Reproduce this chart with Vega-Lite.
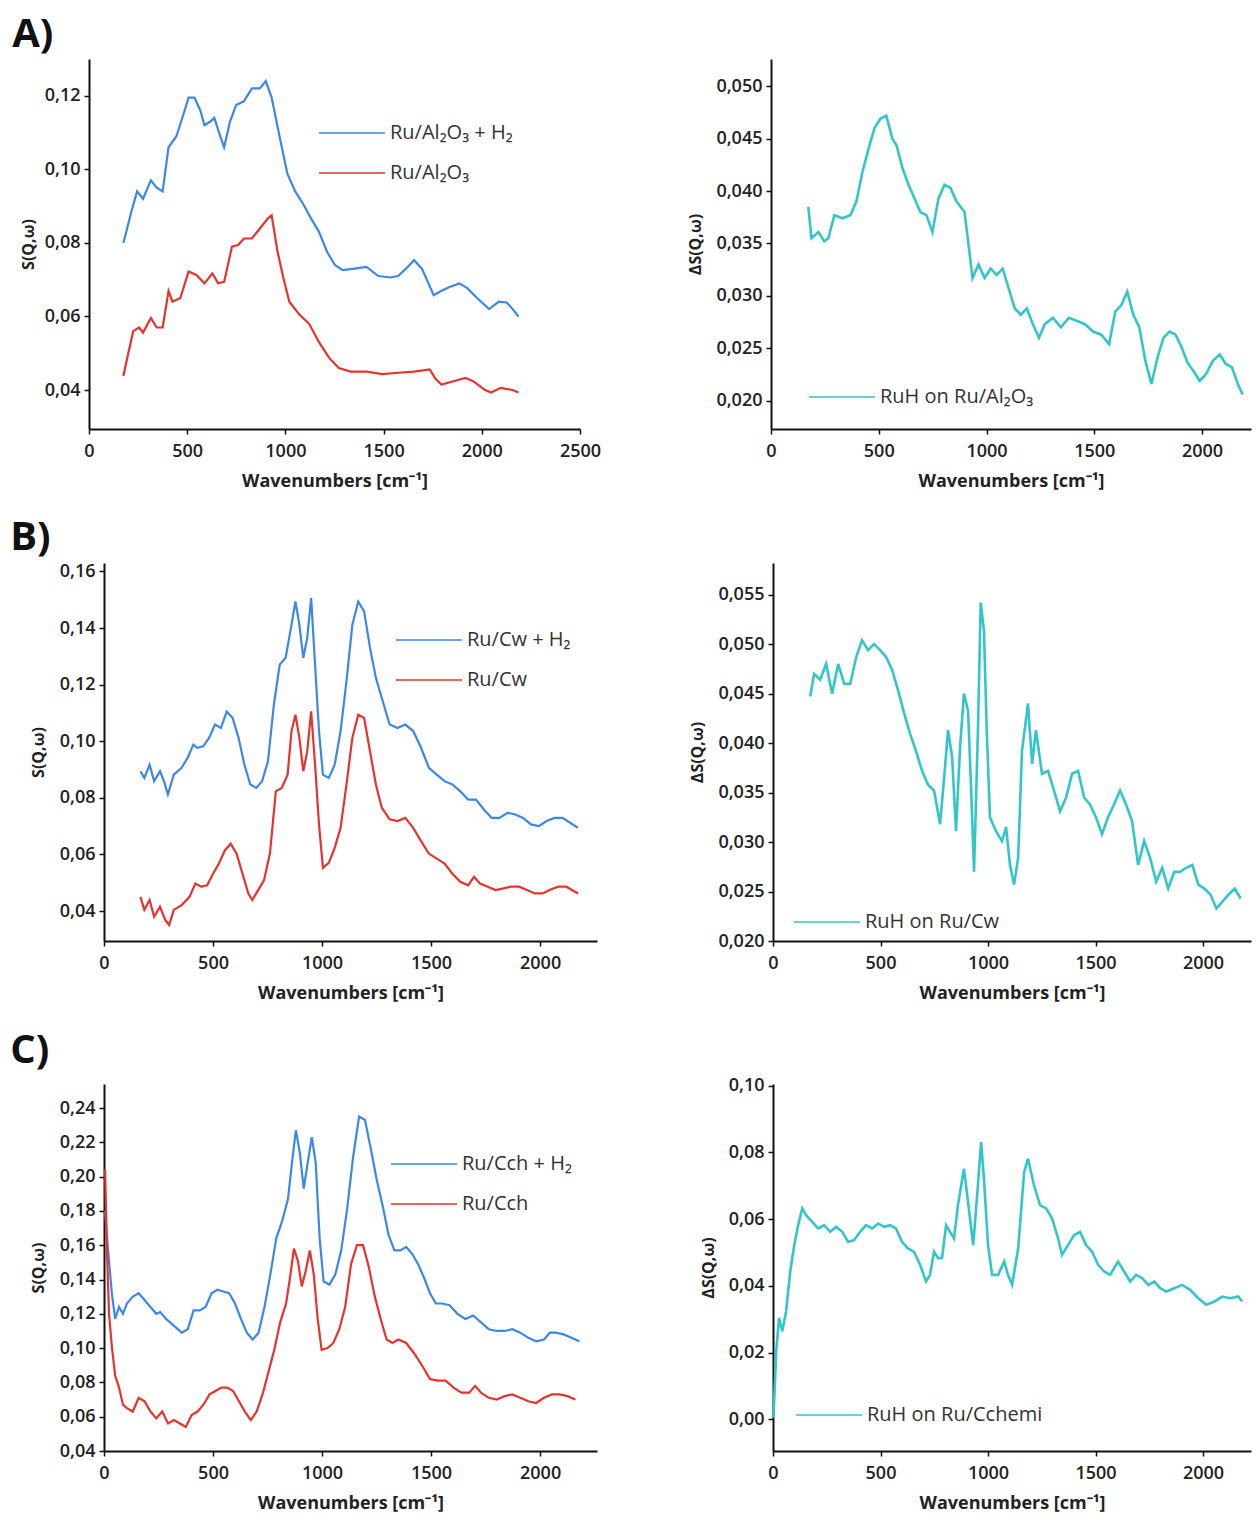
{
  "$schema": "https://vega.github.io/schema/vega-lite/v6.json",
  "background": "white",
  "padding": {"left": 10, "top": 15, "right": 2, "bottom": 0},
  "config": {
    "view": {"stroke": null},
    "font": "Open Sans",
    "axis": {
      "grid": false, "domainColor": "#111", "domainWidth": 2, "tickColor": "#111", "tickWidth": 1.5, "tickSize": 5,
      "labelFont": "Open Sans", "labelFontWeight": 600, "labelFontSize": 18, "labelColor": "#222", "labelPadding": 4,
      "titleFont": "Open Sans", "titleFontWeight": "bold", "titleColor": "#222"
    },
    "axisX": {"titleFontSize": 18, "titlePadding": 12, "labelPadding": 8, "labelFlush": false},
    "axisY": {"titleFontSize": 16, "labelFlush": false},
    "legend": {"labelFont": "Open Sans", "labelFontSize": 20, "labelColor": "#333", "labelLimit": 0, "symbolType": "M-3,0L3,0", "symbolSize": 484, "symbolStrokeWidth": 1.5, "rowPadding": 18, "labelOffset": 26, "orient": "none"},
    "title": {"font": "Open Sans", "fontSize": 40, "fontWeight": "bold", "color": "#111", "anchor": "start", "offset": 0}
  },
  "resolve": {"scale": {"color": "independent"}, "legend": {"color": "independent"}},
  "columns": 1,
  "spacing": 28,
  "concat": [
    {
      "title": {"text": "A)", "dx": -8},
      "bounds": "flush",
      "spacing": 191,
      "resolve": {"scale": {"color": "independent"}, "legend": {"color": "independent"}},
      "hconcat": [
        {
          "width": 476, "height": 370,
          "data": {"values": [
            {"s":"Ru/Al₂O₃ + H₂","x":175,"y":0.080},{"s":"Ru/Al₂O₃ + H₂","x":185,"y":0.082},{"s":"Ru/Al₂O₃ + H₂","x":215,"y":0.0884},{"s":"Ru/Al₂O₃ + H₂","x":245,"y":0.094},{"s":"Ru/Al₂O₃ + H₂","x":275,"y":0.092},{"s":"Ru/Al₂O₃ + H₂","x":315,"y":0.097},{"s":"Ru/Al₂O₃ + H₂","x":345,"y":0.095},{"s":"Ru/Al₂O₃ + H₂","x":375,"y":0.094},{"s":"Ru/Al₂O₃ + H₂","x":405,"y":0.106},{"s":"Ru/Al₂O₃ + H₂","x":445,"y":0.109},{"s":"Ru/Al₂O₃ + H₂","x":487,"y":0.116},{"s":"Ru/Al₂O₃ + H₂","x":507,"y":0.1195},{"s":"Ru/Al₂O₃ + H₂","x":537,"y":0.1195},{"s":"Ru/Al₂O₃ + H₂","x":567,"y":0.116},{"s":"Ru/Al₂O₃ + H₂","x":588,"y":0.112},{"s":"Ru/Al₂O₃ + H₂","x":618,"y":0.113},{"s":"Ru/Al₂O₃ + H₂","x":638,"y":0.114},{"s":"Ru/Al₂O₃ + H₂","x":668,"y":0.109},{"s":"Ru/Al₂O₃ + H₂","x":688,"y":0.106},{"s":"Ru/Al₂O₃ + H₂","x":718,"y":0.113},{"s":"Ru/Al₂O₃ + H₂","x":749,"y":0.1175},{"s":"Ru/Al₂O₃ + H₂","x":789,"y":0.1185},{"s":"Ru/Al₂O₃ + H₂","x":829,"y":0.122},{"s":"Ru/Al₂O₃ + H₂","x":870,"y":0.122},{"s":"Ru/Al₂O₃ + H₂","x":900,"y":0.124},{"s":"Ru/Al₂O₃ + H₂","x":930,"y":0.1195},{"s":"Ru/Al₂O₃ + H₂","x":970,"y":0.109},{"s":"Ru/Al₂O₃ + H₂","x":1010,"y":0.0988},{"s":"Ru/Al₂O₃ + H₂","x":1050,"y":0.094},{"s":"Ru/Al₂O₃ + H₂","x":1091,"y":0.0905},{"s":"Ru/Al₂O₃ + H₂","x":1131,"y":0.0866},{"s":"Ru/Al₂O₃ + H₂","x":1171,"y":0.083},{"s":"Ru/Al₂O₃ + H₂","x":1212,"y":0.0776},{"s":"Ru/Al₂O₃ + H₂","x":1252,"y":0.074},{"s":"Ru/Al₂O₃ + H₂","x":1292,"y":0.0726},{"s":"Ru/Al₂O₃ + H₂","x":1352,"y":0.073},{"s":"Ru/Al₂O₃ + H₂","x":1413,"y":0.0735},{"s":"Ru/Al₂O₃ + H₂","x":1473,"y":0.071},{"s":"Ru/Al₂O₃ + H₂","x":1534,"y":0.0706},{"s":"Ru/Al₂O₃ + H₂","x":1574,"y":0.071},{"s":"Ru/Al₂O₃ + H₂","x":1614,"y":0.073},{"s":"Ru/Al₂O₃ + H₂","x":1655,"y":0.0753},{"s":"Ru/Al₂O₃ + H₂","x":1695,"y":0.073},{"s":"Ru/Al₂O₃ + H₂","x":1725,"y":0.0694},{"s":"Ru/Al₂O₃ + H₂","x":1755,"y":0.0658},{"s":"Ru/Al₂O₃ + H₂","x":1795,"y":0.067},{"s":"Ru/Al₂O₃ + H₂","x":1836,"y":0.068},{"s":"Ru/Al₂O₃ + H₂","x":1886,"y":0.069},{"s":"Ru/Al₂O₃ + H₂","x":1926,"y":0.0677},{"s":"Ru/Al₂O₃ + H₂","x":1976,"y":0.065},{"s":"Ru/Al₂O₃ + H₂","x":2037,"y":0.062},{"s":"Ru/Al₂O₃ + H₂","x":2087,"y":0.064},{"s":"Ru/Al₂O₃ + H₂","x":2127,"y":0.0638},{"s":"Ru/Al₂O₃ + H₂","x":2157,"y":0.062},{"s":"Ru/Al₂O₃ + H₂","x":2187,"y":0.060},
            {"s":"Ru/Al₂O₃","x":175,"y":0.0438},{"s":"Ru/Al₂O₃","x":195,"y":0.0488},{"s":"Ru/Al₂O₃","x":225,"y":0.056},{"s":"Ru/Al₂O₃","x":255,"y":0.057},{"s":"Ru/Al₂O₃","x":275,"y":0.0556},{"s":"Ru/Al₂O₃","x":315,"y":0.0596},{"s":"Ru/Al₂O₃","x":345,"y":0.057},{"s":"Ru/Al₂O₃","x":375,"y":0.057},{"s":"Ru/Al₂O₃","x":405,"y":0.0669},{"s":"Ru/Al₂O₃","x":425,"y":0.064},{"s":"Ru/Al₂O₃","x":465,"y":0.065},{"s":"Ru/Al₂O₃","x":507,"y":0.0722},{"s":"Ru/Al₂O₃","x":547,"y":0.0713},{"s":"Ru/Al₂O₃","x":588,"y":0.069},{"s":"Ru/Al₂O₃","x":628,"y":0.0717},{"s":"Ru/Al₂O₃","x":658,"y":0.069},{"s":"Ru/Al₂O₃","x":688,"y":0.0694},{"s":"Ru/Al₂O₃","x":728,"y":0.079},{"s":"Ru/Al₂O₃","x":759,"y":0.0794},{"s":"Ru/Al₂O₃","x":789,"y":0.0812},{"s":"Ru/Al₂O₃","x":829,"y":0.0812},{"s":"Ru/Al₂O₃","x":870,"y":0.0839},{"s":"Ru/Al₂O₃","x":910,"y":0.0866},{"s":"Ru/Al₂O₃","x":930,"y":0.0875},{"s":"Ru/Al₂O₃","x":960,"y":0.0776},{"s":"Ru/Al₂O₃","x":990,"y":0.0704},{"s":"Ru/Al₂O₃","x":1020,"y":0.064},{"s":"Ru/Al₂O₃","x":1071,"y":0.0605},{"s":"Ru/Al₂O₃","x":1121,"y":0.058},{"s":"Ru/Al₂O₃","x":1171,"y":0.053},{"s":"Ru/Al₂O₃","x":1222,"y":0.0488},{"s":"Ru/Al₂O₃","x":1272,"y":0.046},{"s":"Ru/Al₂O₃","x":1332,"y":0.045},{"s":"Ru/Al₂O₃","x":1413,"y":0.045},{"s":"Ru/Al₂O₃","x":1494,"y":0.0443},{"s":"Ru/Al₂O₃","x":1574,"y":0.0447},{"s":"Ru/Al₂O₃","x":1655,"y":0.045},{"s":"Ru/Al₂O₃","x":1735,"y":0.0456},{"s":"Ru/Al₂O₃","x":1765,"y":0.043},{"s":"Ru/Al₂O₃","x":1795,"y":0.0415},{"s":"Ru/Al₂O₃","x":1856,"y":0.0424},{"s":"Ru/Al₂O₃","x":1916,"y":0.0433},{"s":"Ru/Al₂O₃","x":1956,"y":0.0424},{"s":"Ru/Al₂O₃","x":2017,"y":0.040},{"s":"Ru/Al₂O₃","x":2047,"y":0.0393},{"s":"Ru/Al₂O₃","x":2097,"y":0.0406},{"s":"Ru/Al₂O₃","x":2157,"y":0.040},{"s":"Ru/Al₂O₃","x":2187,"y":0.0393}
          ]},
          "mark": {"type": "line", "strokeWidth": 2.2},
          "encoding": {
            "x": {"field": "x", "type": "quantitative", "scale": {"domain": [0, 2500], "range": [-15, 476], "nice": false, "zero": false}, "axis": {"values": [0,500,1000,1500,2000,2500], "format": "d", "title": "Wavenumbers [cm⁻¹]"}},
            "y": {"field": "y", "type": "quantitative", "scale": {"domain": [0.0294, 0.130], "nice": false, "zero": false}, "axis": {"values": [0.04,0.06,0.08,0.10,0.12], "format": ".2f", "labelExpr": "replace(datum.label, '.', ',')", "title": "S(Q,ω)", "titlePadding": 8, "offset": 15}},
            "color": {"field": "s", "type": "nominal", "scale": {"domain": ["Ru/Al₂O₃ + H₂", "Ru/Al₂O₃"], "range": ["#3d87e6", "#e5332f"]}, "legend": {"title": null, "legendX": 236, "legendY": 62}}
          }
        },
        {
          "width": 480, "height": 370,
          "data": {"values": [
            {"s":"RuH on Ru/Al₂O₃","x":173,"y":0.0385},{"s":"RuH on Ru/Al₂O₃","x":188,"y":0.0355},{"s":"RuH on Ru/Al₂O₃","x":220,"y":0.0361},{"s":"RuH on Ru/Al₂O₃","x":247,"y":0.0352},{"s":"RuH on Ru/Al₂O₃","x":266,"y":0.0355},{"s":"RuH on Ru/Al₂O₃","x":294,"y":0.0377},{"s":"RuH on Ru/Al₂O₃","x":331,"y":0.0374},{"s":"RuH on Ru/Al₂O₃","x":368,"y":0.0377},{"s":"RuH on Ru/Al₂O₃","x":396,"y":0.039},{"s":"RuH on Ru/Al₂O₃","x":424,"y":0.0418},{"s":"RuH on Ru/Al₂O₃","x":452,"y":0.044},{"s":"RuH on Ru/Al₂O₃","x":480,"y":0.046},{"s":"RuH on Ru/Al₂O₃","x":507,"y":0.0469},{"s":"RuH on Ru/Al₂O₃","x":535,"y":0.0472},{"s":"RuH on Ru/Al₂O₃","x":563,"y":0.045},{"s":"RuH on Ru/Al₂O₃","x":582,"y":0.0444},{"s":"RuH on Ru/Al₂O₃","x":610,"y":0.0422},{"s":"RuH on Ru/Al₂O₃","x":638,"y":0.0406},{"s":"RuH on Ru/Al₂O₃","x":666,"y":0.0393},{"s":"RuH on Ru/Al₂O₃","x":693,"y":0.038},{"s":"RuH on Ru/Al₂O₃","x":721,"y":0.0377},{"s":"RuH on Ru/Al₂O₃","x":749,"y":0.0361},{"s":"RuH on Ru/Al₂O₃","x":777,"y":0.0393},{"s":"RuH on Ru/Al₂O₃","x":805,"y":0.0406},{"s":"RuH on Ru/Al₂O₃","x":833,"y":0.0403},{"s":"RuH on Ru/Al₂O₃","x":861,"y":0.039},{"s":"RuH on Ru/Al₂O₃","x":898,"y":0.038},{"s":"RuH on Ru/Al₂O₃","x":917,"y":0.0348},{"s":"RuH on Ru/Al₂O₃","x":935,"y":0.0317},{"s":"RuH on Ru/Al₂O₃","x":963,"y":0.033},{"s":"RuH on Ru/Al₂O₃","x":991,"y":0.0317},{"s":"RuH on Ru/Al₂O₃","x":1019,"y":0.0326},{"s":"RuH on Ru/Al₂O₃","x":1047,"y":0.032},{"s":"RuH on Ru/Al₂O₃","x":1075,"y":0.0326},{"s":"RuH on Ru/Al₂O₃","x":1103,"y":0.0307},{"s":"RuH on Ru/Al₂O₃","x":1131,"y":0.0288},{"s":"RuH on Ru/Al₂O₃","x":1159,"y":0.0282},{"s":"RuH on Ru/Al₂O₃","x":1187,"y":0.0288},{"s":"RuH on Ru/Al₂O₃","x":1215,"y":0.0273},{"s":"RuH on Ru/Al₂O₃","x":1243,"y":0.026},{"s":"RuH on Ru/Al₂O₃","x":1270,"y":0.0273},{"s":"RuH on Ru/Al₂O₃","x":1308,"y":0.0279},{"s":"RuH on Ru/Al₂O₃","x":1345,"y":0.027},{"s":"RuH on Ru/Al₂O₃","x":1382,"y":0.0279},{"s":"RuH on Ru/Al₂O₃","x":1420,"y":0.0276},{"s":"RuH on Ru/Al₂O₃","x":1457,"y":0.0273},{"s":"RuH on Ru/Al₂O₃","x":1494,"y":0.0266},{"s":"RuH on Ru/Al₂O₃","x":1532,"y":0.0263},{"s":"RuH on Ru/Al₂O₃","x":1569,"y":0.0254},{"s":"RuH on Ru/Al₂O₃","x":1597,"y":0.0285},{"s":"RuH on Ru/Al₂O₃","x":1625,"y":0.0291},{"s":"RuH on Ru/Al₂O₃","x":1653,"y":0.0304},{"s":"RuH on Ru/Al₂O₃","x":1681,"y":0.0282},{"s":"RuH on Ru/Al₂O₃","x":1709,"y":0.027},{"s":"RuH on Ru/Al₂O₃","x":1737,"y":0.0238},{"s":"RuH on Ru/Al₂O₃","x":1765,"y":0.0216},{"s":"RuH on Ru/Al₂O₃","x":1793,"y":0.0241},{"s":"RuH on Ru/Al₂O₃","x":1821,"y":0.026},{"s":"RuH on Ru/Al₂O₃","x":1849,"y":0.0266},{"s":"RuH on Ru/Al₂O₃","x":1877,"y":0.0263},{"s":"RuH on Ru/Al₂O₃","x":1905,"y":0.0251},{"s":"RuH on Ru/Al₂O₃","x":1933,"y":0.0236},{"s":"RuH on Ru/Al₂O₃","x":1961,"y":0.0228},{"s":"RuH on Ru/Al₂O₃","x":1989,"y":0.0219},{"s":"RuH on Ru/Al₂O₃","x":2017,"y":0.0225},{"s":"RuH on Ru/Al₂O₃","x":2050,"y":0.0238},{"s":"RuH on Ru/Al₂O₃","x":2082,"y":0.0244},{"s":"RuH on Ru/Al₂O₃","x":2110,"y":0.0235},{"s":"RuH on Ru/Al₂O₃","x":2138,"y":0.0232},{"s":"RuH on Ru/Al₂O₃","x":2166,"y":0.0216},{"s":"RuH on Ru/Al₂O₃","x":2188,"y":0.0206}
          ]},
          "mark": {"type": "line", "strokeWidth": 2.6},
          "encoding": {
            "x": {"field": "x", "type": "quantitative", "scale": {"domain": [0, 2227], "nice": false, "zero": false}, "axis": {"values": [0,500,1000,1500,2000], "format": "d", "title": "Wavenumbers [cm⁻¹]"}},
            "y": {"field": "y", "type": "quantitative", "scale": {"domain": [0.0173, 0.0526], "nice": false, "zero": false}, "axis": {"values": [0.020,0.025,0.030,0.035,0.040,0.045,0.050], "format": ".3f", "labelExpr": "replace(datum.label, '.', ',')", "title": "ΔS(Q,ω)", "titlePadding": 12}},
            "color": {"field": "s", "type": "nominal", "scale": {"domain": ["RuH on Ru/Al₂O₃"], "range": ["#33c6c8"]}, "legend": {"title": null, "legendX": 59, "legendY": 326}}
          }
        }
      ]
    },
    {
      "title": {"text": "B)", "dx": -20},
      "bounds": "flush",
      "spacing": 176,
      "resolve": {"scale": {"color": "independent"}, "legend": {"color": "independent"}},
      "hconcat": [
        {
          "width": 493, "height": 378,
          "data": {"values": [
            {"s":"Ru/Cw + H₂","x":167,"y":0.0894},{"s":"Ru/Cw + H₂","x":185,"y":0.087},{"s":"Ru/Cw + H₂","x":209,"y":0.0917},{"s":"Ru/Cw + H₂","x":230,"y":0.0859},{"s":"Ru/Cw + H₂","x":257,"y":0.0894},{"s":"Ru/Cw + H₂","x":275,"y":0.0859},{"s":"Ru/Cw + H₂","x":293,"y":0.0812},{"s":"Ru/Cw + H₂","x":320,"y":0.0882},{"s":"Ru/Cw + H₂","x":356,"y":0.0906},{"s":"Ru/Cw + H₂","x":383,"y":0.0941},{"s":"Ru/Cw + H₂","x":410,"y":0.0988},{"s":"Ru/Cw + H₂","x":428,"y":0.0977},{"s":"Ru/Cw + H₂","x":455,"y":0.0982},{"s":"Ru/Cw + H₂","x":482,"y":0.1012},{"s":"Ru/Cw + H₂","x":509,"y":0.1059},{"s":"Ru/Cw + H₂","x":536,"y":0.1047},{"s":"Ru/Cw + H₂","x":563,"y":0.1105},{"s":"Ru/Cw + H₂","x":590,"y":0.1082},{"s":"Ru/Cw + H₂","x":617,"y":0.1012},{"s":"Ru/Cw + H₂","x":644,"y":0.0917},{"s":"Ru/Cw + H₂","x":671,"y":0.0847},{"s":"Ru/Cw + H₂","x":698,"y":0.0835},{"s":"Ru/Cw + H₂","x":725,"y":0.0859},{"s":"Ru/Cw + H₂","x":752,"y":0.0929},{"s":"Ru/Cw + H₂","x":779,"y":0.1129},{"s":"Ru/Cw + H₂","x":806,"y":0.1271},{"s":"Ru/Cw + H₂","x":833,"y":0.1295},{"s":"Ru/Cw + H₂","x":860,"y":0.1412},{"s":"Ru/Cw + H₂","x":878,"y":0.1494},{"s":"Ru/Cw + H₂","x":896,"y":0.1412},{"s":"Ru/Cw + H₂","x":914,"y":0.1295},{"s":"Ru/Cw + H₂","x":932,"y":0.1365},{"s":"Ru/Cw + H₂","x":950,"y":0.1506},{"s":"Ru/Cw + H₂","x":968,"y":0.1271},{"s":"Ru/Cw + H₂","x":986,"y":0.1036},{"s":"Ru/Cw + H₂","x":1004,"y":0.0882},{"s":"Ru/Cw + H₂","x":1031,"y":0.087},{"s":"Ru/Cw + H₂","x":1058,"y":0.0917},{"s":"Ru/Cw + H₂","x":1085,"y":0.1036},{"s":"Ru/Cw + H₂","x":1112,"y":0.1212},{"s":"Ru/Cw + H₂","x":1139,"y":0.1412},{"s":"Ru/Cw + H₂","x":1166,"y":0.1494},{"s":"Ru/Cw + H₂","x":1193,"y":0.1459},{"s":"Ru/Cw + H₂","x":1220,"y":0.133},{"s":"Ru/Cw + H₂","x":1247,"y":0.1224},{"s":"Ru/Cw + H₂","x":1274,"y":0.1153},{"s":"Ru/Cw + H₂","x":1310,"y":0.1059},{"s":"Ru/Cw + H₂","x":1346,"y":0.1047},{"s":"Ru/Cw + H₂","x":1382,"y":0.1059},{"s":"Ru/Cw + H₂","x":1418,"y":0.1036},{"s":"Ru/Cw + H₂","x":1454,"y":0.0977},{"s":"Ru/Cw + H₂","x":1490,"y":0.0906},{"s":"Ru/Cw + H₂","x":1526,"y":0.0882},{"s":"Ru/Cw + H₂","x":1562,"y":0.0859},{"s":"Ru/Cw + H₂","x":1598,"y":0.0847},{"s":"Ru/Cw + H₂","x":1634,"y":0.0823},{"s":"Ru/Cw + H₂","x":1670,"y":0.0794},{"s":"Ru/Cw + H₂","x":1706,"y":0.0794},{"s":"Ru/Cw + H₂","x":1742,"y":0.0759},{"s":"Ru/Cw + H₂","x":1778,"y":0.0729},{"s":"Ru/Cw + H₂","x":1814,"y":0.0729},{"s":"Ru/Cw + H₂","x":1850,"y":0.0747},{"s":"Ru/Cw + H₂","x":1886,"y":0.0741},{"s":"Ru/Cw + H₂","x":1922,"y":0.0729},{"s":"Ru/Cw + H₂","x":1958,"y":0.0706},{"s":"Ru/Cw + H₂","x":1994,"y":0.070},{"s":"Ru/Cw + H₂","x":2030,"y":0.0718},{"s":"Ru/Cw + H₂","x":2066,"y":0.0729},{"s":"Ru/Cw + H₂","x":2102,"y":0.0729},{"s":"Ru/Cw + H₂","x":2138,"y":0.0712},{"s":"Ru/Cw + H₂","x":2174,"y":0.0694},
            {"s":"Ru/Cw","x":167,"y":0.045},{"s":"Ru/Cw","x":185,"y":0.0404},{"s":"Ru/Cw","x":209,"y":0.0439},{"s":"Ru/Cw","x":230,"y":0.038},{"s":"Ru/Cw","x":257,"y":0.0415},{"s":"Ru/Cw","x":281,"y":0.0368},{"s":"Ru/Cw","x":299,"y":0.0351},{"s":"Ru/Cw","x":320,"y":0.0404},{"s":"Ru/Cw","x":356,"y":0.0421},{"s":"Ru/Cw","x":392,"y":0.045},{"s":"Ru/Cw","x":419,"y":0.0497},{"s":"Ru/Cw","x":446,"y":0.0486},{"s":"Ru/Cw","x":473,"y":0.0491},{"s":"Ru/Cw","x":500,"y":0.0532},{"s":"Ru/Cw","x":527,"y":0.0568},{"s":"Ru/Cw","x":554,"y":0.0614},{"s":"Ru/Cw","x":581,"y":0.0638},{"s":"Ru/Cw","x":608,"y":0.0603},{"s":"Ru/Cw","x":635,"y":0.0532},{"s":"Ru/Cw","x":662,"y":0.0462},{"s":"Ru/Cw","x":680,"y":0.0439},{"s":"Ru/Cw","x":707,"y":0.0474},{"s":"Ru/Cw","x":734,"y":0.0509},{"s":"Ru/Cw","x":761,"y":0.0603},{"s":"Ru/Cw","x":788,"y":0.0823},{"s":"Ru/Cw","x":815,"y":0.0835},{"s":"Ru/Cw","x":842,"y":0.0882},{"s":"Ru/Cw","x":860,"y":0.1036},{"s":"Ru/Cw","x":878,"y":0.1094},{"s":"Ru/Cw","x":896,"y":0.1012},{"s":"Ru/Cw","x":914,"y":0.0894},{"s":"Ru/Cw","x":932,"y":0.0964},{"s":"Ru/Cw","x":950,"y":0.1106},{"s":"Ru/Cw","x":968,"y":0.0917},{"s":"Ru/Cw","x":986,"y":0.0706},{"s":"Ru/Cw","x":1004,"y":0.0553},{"s":"Ru/Cw","x":1031,"y":0.057},{"s":"Ru/Cw","x":1058,"y":0.0623},{"s":"Ru/Cw","x":1085,"y":0.0694},{"s":"Ru/Cw","x":1112,"y":0.0847},{"s":"Ru/Cw","x":1139,"y":0.1012},{"s":"Ru/Cw","x":1166,"y":0.1094},{"s":"Ru/Cw","x":1193,"y":0.1082},{"s":"Ru/Cw","x":1220,"y":0.0964},{"s":"Ru/Cw","x":1247,"y":0.0847},{"s":"Ru/Cw","x":1274,"y":0.0765},{"s":"Ru/Cw","x":1310,"y":0.0724},{"s":"Ru/Cw","x":1346,"y":0.0718},{"s":"Ru/Cw","x":1382,"y":0.0729},{"s":"Ru/Cw","x":1418,"y":0.0694},{"s":"Ru/Cw","x":1454,"y":0.0647},{"s":"Ru/Cw","x":1490,"y":0.0603},{"s":"Ru/Cw","x":1526,"y":0.0585},{"s":"Ru/Cw","x":1562,"y":0.0568},{"s":"Ru/Cw","x":1598,"y":0.0532},{"s":"Ru/Cw","x":1634,"y":0.0503},{"s":"Ru/Cw","x":1670,"y":0.0491},{"s":"Ru/Cw","x":1697,"y":0.0521},{"s":"Ru/Cw","x":1724,"y":0.0497},{"s":"Ru/Cw","x":1760,"y":0.0486},{"s":"Ru/Cw","x":1796,"y":0.0474},{"s":"Ru/Cw","x":1832,"y":0.048},{"s":"Ru/Cw","x":1868,"y":0.0486},{"s":"Ru/Cw","x":1904,"y":0.0486},{"s":"Ru/Cw","x":1940,"y":0.0474},{"s":"Ru/Cw","x":1976,"y":0.0462},{"s":"Ru/Cw","x":2012,"y":0.0462},{"s":"Ru/Cw","x":2048,"y":0.0476},{"s":"Ru/Cw","x":2084,"y":0.0486},{"s":"Ru/Cw","x":2120,"y":0.0486},{"s":"Ru/Cw","x":2174,"y":0.0462}
          ]},
          "mark": {"type": "line", "strokeWidth": 2.2},
          "encoding": {
            "x": {"field": "x", "type": "quantitative", "scale": {"domain": [0, 2261], "nice": false, "zero": false}, "axis": {"values": [0,500,1000,1500,2000], "format": "d", "title": "Wavenumbers [cm⁻¹]"}},
            "y": {"field": "y", "type": "quantitative", "scale": {"domain": [0.0294, 0.163], "nice": false, "zero": false}, "axis": {"values": [0.04,0.06,0.08,0.10,0.12,0.14,0.16], "format": ".2f", "labelExpr": "replace(datum.label, '.', ',')", "title": "S(Q,ω)", "titlePadding": 13}},
            "color": {"field": "s", "type": "nominal", "scale": {"domain": ["Ru/Cw + H₂", "Ru/Cw"], "range": ["#3d87e6", "#e5332f"]}, "legend": {"title": null, "legendX": 313, "legendY": 65}}
          }
        },
        {
          "width": 478, "height": 378,
          "data": {"values": [
            {"s":"RuH on Ru/Cw","x":173,"y":0.0447},{"s":"RuH on Ru/Cw","x":191,"y":0.047},{"s":"RuH on Ru/Cw","x":219,"y":0.0464},{"s":"RuH on Ru/Cw","x":247,"y":0.048},{"s":"RuH on Ru/Cw","x":275,"y":0.045},{"s":"RuH on Ru/Cw","x":303,"y":0.048},{"s":"RuH on Ru/Cw","x":331,"y":0.046},{"s":"RuH on Ru/Cw","x":359,"y":0.046},{"s":"RuH on Ru/Cw","x":387,"y":0.0487},{"s":"RuH on Ru/Cw","x":414,"y":0.0504},{"s":"RuH on Ru/Cw","x":442,"y":0.0494},{"s":"RuH on Ru/Cw","x":470,"y":0.050},{"s":"RuH on Ru/Cw","x":498,"y":0.0494},{"s":"RuH on Ru/Cw","x":526,"y":0.0487},{"s":"RuH on Ru/Cw","x":554,"y":0.0474},{"s":"RuH on Ru/Cw","x":582,"y":0.0453},{"s":"RuH on Ru/Cw","x":610,"y":0.043},{"s":"RuH on Ru/Cw","x":638,"y":0.0409},{"s":"RuH on Ru/Cw","x":665,"y":0.0392},{"s":"RuH on Ru/Cw","x":693,"y":0.0372},{"s":"RuH on Ru/Cw","x":721,"y":0.0358},{"s":"RuH on Ru/Cw","x":749,"y":0.0352},{"s":"RuH on Ru/Cw","x":777,"y":0.0318},{"s":"RuH on Ru/Cw","x":796,"y":0.0365},{"s":"RuH on Ru/Cw","x":814,"y":0.0413},{"s":"RuH on Ru/Cw","x":833,"y":0.0386},{"s":"RuH on Ru/Cw","x":851,"y":0.0311},{"s":"RuH on Ru/Cw","x":870,"y":0.0396},{"s":"RuH on Ru/Cw","x":888,"y":0.045},{"s":"RuH on Ru/Cw","x":907,"y":0.0433},{"s":"RuH on Ru/Cw","x":920,"y":0.0362},{"s":"RuH on Ru/Cw","x":935,"y":0.027},{"s":"RuH on Ru/Cw","x":953,"y":0.0413},{"s":"RuH on Ru/Cw","x":966,"y":0.0542},{"s":"RuH on Ru/Cw","x":981,"y":0.0514},{"s":"RuH on Ru/Cw","x":994,"y":0.0413},{"s":"RuH on Ru/Cw","x":1009,"y":0.0325},{"s":"RuH on Ru/Cw","x":1037,"y":0.0311},{"s":"RuH on Ru/Cw","x":1065,"y":0.0301},{"s":"RuH on Ru/Cw","x":1084,"y":0.0315},{"s":"RuH on Ru/Cw","x":1102,"y":0.0277},{"s":"RuH on Ru/Cw","x":1121,"y":0.0257},{"s":"RuH on Ru/Cw","x":1140,"y":0.0284},{"s":"RuH on Ru/Cw","x":1158,"y":0.0392},{"s":"RuH on Ru/Cw","x":1186,"y":0.044},{"s":"RuH on Ru/Cw","x":1205,"y":0.0379},{"s":"RuH on Ru/Cw","x":1223,"y":0.0413},{"s":"RuH on Ru/Cw","x":1251,"y":0.0369},{"s":"RuH on Ru/Cw","x":1279,"y":0.0372},{"s":"RuH on Ru/Cw","x":1307,"y":0.0352},{"s":"RuH on Ru/Cw","x":1335,"y":0.0331},{"s":"RuH on Ru/Cw","x":1363,"y":0.0345},{"s":"RuH on Ru/Cw","x":1391,"y":0.0369},{"s":"RuH on Ru/Cw","x":1419,"y":0.0372},{"s":"RuH on Ru/Cw","x":1447,"y":0.0345},{"s":"RuH on Ru/Cw","x":1474,"y":0.0338},{"s":"RuH on Ru/Cw","x":1502,"y":0.0325},{"s":"RuH on Ru/Cw","x":1530,"y":0.0308},{"s":"RuH on Ru/Cw","x":1558,"y":0.0325},{"s":"RuH on Ru/Cw","x":1586,"y":0.0338},{"s":"RuH on Ru/Cw","x":1614,"y":0.0352},{"s":"RuH on Ru/Cw","x":1642,"y":0.0338},{"s":"RuH on Ru/Cw","x":1670,"y":0.0321},{"s":"RuH on Ru/Cw","x":1698,"y":0.0277},{"s":"RuH on Ru/Cw","x":1726,"y":0.0301},{"s":"RuH on Ru/Cw","x":1754,"y":0.0284},{"s":"RuH on Ru/Cw","x":1782,"y":0.026},{"s":"RuH on Ru/Cw","x":1810,"y":0.0274},{"s":"RuH on Ru/Cw","x":1838,"y":0.0253},{"s":"RuH on Ru/Cw","x":1866,"y":0.027},{"s":"RuH on Ru/Cw","x":1894,"y":0.027},{"s":"RuH on Ru/Cw","x":1922,"y":0.0274},{"s":"RuH on Ru/Cw","x":1950,"y":0.0277},{"s":"RuH on Ru/Cw","x":1978,"y":0.0257},{"s":"RuH on Ru/Cw","x":2006,"y":0.0253},{"s":"RuH on Ru/Cw","x":2034,"y":0.0247},{"s":"RuH on Ru/Cw","x":2062,"y":0.0233},{"s":"RuH on Ru/Cw","x":2091,"y":0.024},{"s":"RuH on Ru/Cw","x":2119,"y":0.0247},{"s":"RuH on Ru/Cw","x":2147,"y":0.0253},{"s":"RuH on Ru/Cw","x":2175,"y":0.0243}
          ]},
          "mark": {"type": "line", "strokeWidth": 2.6},
          "encoding": {
            "x": {"field": "x", "type": "quantitative", "scale": {"domain": [0, 2223], "nice": false, "zero": false}, "axis": {"values": [0,500,1000,1500,2000], "format": "d", "title": "Wavenumbers [cm⁻¹]"}},
            "y": {"field": "y", "type": "quantitative", "scale": {"domain": [0.020, 0.0582], "nice": false, "zero": false}, "axis": {"values": [0.020,0.025,0.030,0.035,0.040,0.045,0.050,0.055], "format": ".3f", "labelExpr": "replace(datum.label, '.', ',')", "title": "ΔS(Q,ω)", "titlePadding": 12}},
            "color": {"field": "s", "type": "nominal", "scale": {"domain": ["RuH on Ru/Cw"], "range": ["#33c6c8"]}, "legend": {"title": null, "legendX": 42, "legendY": 347}}
          }
        }
      ]
    },
    {
      "title": {"text": "C)", "dx": -20, "offset": 6},
      "bounds": "flush",
      "spacing": 176,
      "resolve": {"scale": {"color": "independent"}, "legend": {"color": "independent"}},
      "hconcat": [
        {
          "width": 493, "height": 367,
          "data": {"values": [
            {"s":"Ru/Cch + H₂","x":5,"y":0.18},{"s":"Ru/Cch + H₂","x":14,"y":0.164},{"s":"Ru/Cch + H₂","x":23,"y":0.151},{"s":"Ru/Cch + H₂","x":36,"y":0.132},{"s":"Ru/Cch + H₂","x":51,"y":0.117},{"s":"Ru/Cch + H₂","x":69,"y":0.124},{"s":"Ru/Cch + H₂","x":87,"y":0.12},{"s":"Ru/Cch + H₂","x":105,"y":0.126},{"s":"Ru/Cch + H₂","x":132,"y":0.13},{"s":"Ru/Cch + H₂","x":159,"y":0.132},{"s":"Ru/Cch + H₂","x":186,"y":0.128},{"s":"Ru/Cch + H₂","x":213,"y":0.124},{"s":"Ru/Cch + H₂","x":240,"y":0.12},{"s":"Ru/Cch + H₂","x":258,"y":0.121},{"s":"Ru/Cch + H₂","x":285,"y":0.117},{"s":"Ru/Cch + H₂","x":321,"y":0.113},{"s":"Ru/Cch + H₂","x":357,"y":0.109},{"s":"Ru/Cch + H₂","x":384,"y":0.111},{"s":"Ru/Cch + H₂","x":411,"y":0.122},{"s":"Ru/Cch + H₂","x":439,"y":0.122},{"s":"Ru/Cch + H₂","x":466,"y":0.124},{"s":"Ru/Cch + H₂","x":493,"y":0.132},{"s":"Ru/Cch + H₂","x":520,"y":0.134},{"s":"Ru/Cch + H₂","x":547,"y":0.133},{"s":"Ru/Cch + H₂","x":574,"y":0.132},{"s":"Ru/Cch + H₂","x":601,"y":0.126},{"s":"Ru/Cch + H₂","x":628,"y":0.117},{"s":"Ru/Cch + H₂","x":655,"y":0.109},{"s":"Ru/Cch + H₂","x":682,"y":0.105},{"s":"Ru/Cch + H₂","x":709,"y":0.109},{"s":"Ru/Cch + H₂","x":736,"y":0.124},{"s":"Ru/Cch + H₂","x":763,"y":0.143},{"s":"Ru/Cch + H₂","x":790,"y":0.164},{"s":"Ru/Cch + H₂","x":817,"y":0.174},{"s":"Ru/Cch + H₂","x":844,"y":0.187},{"s":"Ru/Cch + H₂","x":862,"y":0.208},{"s":"Ru/Cch + H₂","x":880,"y":0.227},{"s":"Ru/Cch + H₂","x":898,"y":0.214},{"s":"Ru/Cch + H₂","x":916,"y":0.193},{"s":"Ru/Cch + H₂","x":934,"y":0.208},{"s":"Ru/Cch + H₂","x":953,"y":0.223},{"s":"Ru/Cch + H₂","x":971,"y":0.208},{"s":"Ru/Cch + H₂","x":989,"y":0.164},{"s":"Ru/Cch + H₂","x":1007,"y":0.139},{"s":"Ru/Cch + H₂","x":1034,"y":0.137},{"s":"Ru/Cch + H₂","x":1061,"y":0.143},{"s":"Ru/Cch + H₂","x":1088,"y":0.157},{"s":"Ru/Cch + H₂","x":1115,"y":0.181},{"s":"Ru/Cch + H₂","x":1142,"y":0.211},{"s":"Ru/Cch + H₂","x":1170,"y":0.235},{"s":"Ru/Cch + H₂","x":1197,"y":0.233},{"s":"Ru/Cch + H₂","x":1224,"y":0.216},{"s":"Ru/Cch + H₂","x":1251,"y":0.198},{"s":"Ru/Cch + H₂","x":1278,"y":0.183},{"s":"Ru/Cch + H₂","x":1305,"y":0.166},{"s":"Ru/Cch + H₂","x":1332,"y":0.157},{"s":"Ru/Cch + H₂","x":1359,"y":0.157},{"s":"Ru/Cch + H₂","x":1386,"y":0.159},{"s":"Ru/Cch + H₂","x":1413,"y":0.155},{"s":"Ru/Cch + H₂","x":1440,"y":0.149},{"s":"Ru/Cch + H₂","x":1468,"y":0.141},{"s":"Ru/Cch + H₂","x":1495,"y":0.132},{"s":"Ru/Cch + H₂","x":1522,"y":0.126},{"s":"Ru/Cch + H₂","x":1549,"y":0.126},{"s":"Ru/Cch + H₂","x":1585,"y":0.125},{"s":"Ru/Cch + H₂","x":1621,"y":0.12},{"s":"Ru/Cch + H₂","x":1657,"y":0.117},{"s":"Ru/Cch + H₂","x":1693,"y":0.119},{"s":"Ru/Cch + H₂","x":1729,"y":0.115},{"s":"Ru/Cch + H₂","x":1765,"y":0.111},{"s":"Ru/Cch + H₂","x":1801,"y":0.11},{"s":"Ru/Cch + H₂","x":1837,"y":0.11},{"s":"Ru/Cch + H₂","x":1873,"y":0.111},{"s":"Ru/Cch + H₂","x":1909,"y":0.109},{"s":"Ru/Cch + H₂","x":1946,"y":0.106},{"s":"Ru/Cch + H₂","x":1982,"y":0.104},{"s":"Ru/Cch + H₂","x":2018,"y":0.105},{"s":"Ru/Cch + H₂","x":2045,"y":0.109},{"s":"Ru/Cch + H₂","x":2072,"y":0.109},{"s":"Ru/Cch + H₂","x":2108,"y":0.108},{"s":"Ru/Cch + H₂","x":2144,"y":0.106},{"s":"Ru/Cch + H₂","x":2180,"y":0.104},
            {"s":"Ru/Cch","x":5,"y":0.204},{"s":"Ru/Cch","x":14,"y":0.155},{"s":"Ru/Cch","x":23,"y":0.12},{"s":"Ru/Cch","x":36,"y":0.101},{"s":"Ru/Cch","x":51,"y":0.084},{"s":"Ru/Cch","x":69,"y":0.077},{"s":"Ru/Cch","x":87,"y":0.067},{"s":"Ru/Cch","x":105,"y":0.065},{"s":"Ru/Cch","x":132,"y":0.063},{"s":"Ru/Cch","x":159,"y":0.071},{"s":"Ru/Cch","x":186,"y":0.069},{"s":"Ru/Cch","x":213,"y":0.063},{"s":"Ru/Cch","x":240,"y":0.059},{"s":"Ru/Cch","x":267,"y":0.063},{"s":"Ru/Cch","x":294,"y":0.056},{"s":"Ru/Cch","x":321,"y":0.058},{"s":"Ru/Cch","x":348,"y":0.056},{"s":"Ru/Cch","x":375,"y":0.054},{"s":"Ru/Cch","x":402,"y":0.061},{"s":"Ru/Cch","x":429,"y":0.063},{"s":"Ru/Cch","x":456,"y":0.067},{"s":"Ru/Cch","x":484,"y":0.073},{"s":"Ru/Cch","x":511,"y":0.075},{"s":"Ru/Cch","x":538,"y":0.077},{"s":"Ru/Cch","x":565,"y":0.077},{"s":"Ru/Cch","x":592,"y":0.075},{"s":"Ru/Cch","x":619,"y":0.069},{"s":"Ru/Cch","x":646,"y":0.063},{"s":"Ru/Cch","x":673,"y":0.058},{"s":"Ru/Cch","x":700,"y":0.063},{"s":"Ru/Cch","x":727,"y":0.073},{"s":"Ru/Cch","x":754,"y":0.086},{"s":"Ru/Cch","x":781,"y":0.099},{"s":"Ru/Cch","x":808,"y":0.115},{"s":"Ru/Cch","x":835,"y":0.126},{"s":"Ru/Cch","x":853,"y":0.141},{"s":"Ru/Cch","x":871,"y":0.158},{"s":"Ru/Cch","x":889,"y":0.151},{"s":"Ru/Cch","x":907,"y":0.136},{"s":"Ru/Cch","x":925,"y":0.145},{"s":"Ru/Cch","x":944,"y":0.157},{"s":"Ru/Cch","x":962,"y":0.143},{"s":"Ru/Cch","x":980,"y":0.117},{"s":"Ru/Cch","x":998,"y":0.099},{"s":"Ru/Cch","x":1025,"y":0.1},{"s":"Ru/Cch","x":1052,"y":0.103},{"s":"Ru/Cch","x":1079,"y":0.111},{"s":"Ru/Cch","x":1106,"y":0.124},{"s":"Ru/Cch","x":1133,"y":0.149},{"s":"Ru/Cch","x":1160,"y":0.16},{"s":"Ru/Cch","x":1188,"y":0.16},{"s":"Ru/Cch","x":1215,"y":0.147},{"s":"Ru/Cch","x":1242,"y":0.13},{"s":"Ru/Cch","x":1269,"y":0.117},{"s":"Ru/Cch","x":1296,"y":0.105},{"s":"Ru/Cch","x":1323,"y":0.103},{"s":"Ru/Cch","x":1350,"y":0.105},{"s":"Ru/Cch","x":1386,"y":0.103},{"s":"Ru/Cch","x":1422,"y":0.097},{"s":"Ru/Cch","x":1458,"y":0.09},{"s":"Ru/Cch","x":1495,"y":0.082},{"s":"Ru/Cch","x":1531,"y":0.081},{"s":"Ru/Cch","x":1567,"y":0.081},{"s":"Ru/Cch","x":1603,"y":0.077},{"s":"Ru/Cch","x":1639,"y":0.074},{"s":"Ru/Cch","x":1675,"y":0.074},{"s":"Ru/Cch","x":1702,"y":0.078},{"s":"Ru/Cch","x":1729,"y":0.074},{"s":"Ru/Cch","x":1765,"y":0.071},{"s":"Ru/Cch","x":1801,"y":0.07},{"s":"Ru/Cch","x":1837,"y":0.072},{"s":"Ru/Cch","x":1873,"y":0.073},{"s":"Ru/Cch","x":1909,"y":0.071},{"s":"Ru/Cch","x":1946,"y":0.069},{"s":"Ru/Cch","x":1982,"y":0.068},{"s":"Ru/Cch","x":2018,"y":0.071},{"s":"Ru/Cch","x":2054,"y":0.073},{"s":"Ru/Cch","x":2090,"y":0.073},{"s":"Ru/Cch","x":2126,"y":0.072},{"s":"Ru/Cch","x":2162,"y":0.07}
          ]},
          "mark": {"type": "line", "strokeWidth": 2.2},
          "encoding": {
            "x": {"field": "x", "type": "quantitative", "scale": {"domain": [0, 2261], "nice": false, "zero": false}, "axis": {"values": [0,500,1000,1500,2000], "format": "d", "title": "Wavenumbers [cm⁻¹]"}},
            "y": {"field": "y", "type": "quantitative", "scale": {"domain": [0.04, 0.254], "nice": false, "zero": false}, "axis": {"values": [0.04,0.06,0.08,0.10,0.12,0.14,0.16,0.18,0.20,0.22,0.24], "format": ".2f", "labelExpr": "replace(datum.label, '.', ',')", "title": "S(Q,ω)", "titlePadding": 13}},
            "color": {"field": "s", "type": "nominal", "scale": {"domain": ["Ru/Cch + H₂", "Ru/Cch"], "range": ["#3d87e6", "#e5332f"]}, "legend": {"title": null, "legendX": 308, "legendY": 68}}
          }
        },
        {
          "width": 478, "height": 367,
          "data": {"values": [
            {"s":"RuH on Ru/Cchemi","x":2,"y":0.0005},{"s":"RuH on Ru/Cchemi","x":15,"y":0.0204},{"s":"RuH on Ru/Cchemi","x":28,"y":0.0304},{"s":"RuH on Ru/Cchemi","x":43,"y":0.0264},{"s":"RuH on Ru/Cchemi","x":61,"y":0.0324},{"s":"RuH on Ru/Cchemi","x":80,"y":0.0443},{"s":"RuH on Ru/Cchemi","x":99,"y":0.0523},{"s":"RuH on Ru/Cchemi","x":117,"y":0.0582},{"s":"RuH on Ru/Cchemi","x":136,"y":0.0632},{"s":"RuH on Ru/Cchemi","x":154,"y":0.0612},{"s":"RuH on Ru/Cchemi","x":182,"y":0.0592},{"s":"RuH on Ru/Cchemi","x":210,"y":0.0572},{"s":"RuH on Ru/Cchemi","x":238,"y":0.0582},{"s":"RuH on Ru/Cchemi","x":266,"y":0.0562},{"s":"RuH on Ru/Cchemi","x":294,"y":0.0577},{"s":"RuH on Ru/Cchemi","x":322,"y":0.0562},{"s":"RuH on Ru/Cchemi","x":349,"y":0.0532},{"s":"RuH on Ru/Cchemi","x":377,"y":0.0537},{"s":"RuH on Ru/Cchemi","x":405,"y":0.0562},{"s":"RuH on Ru/Cchemi","x":433,"y":0.0582},{"s":"RuH on Ru/Cchemi","x":461,"y":0.0572},{"s":"RuH on Ru/Cchemi","x":489,"y":0.0587},{"s":"RuH on Ru/Cchemi","x":517,"y":0.0577},{"s":"RuH on Ru/Cchemi","x":545,"y":0.0582},{"s":"RuH on Ru/Cchemi","x":572,"y":0.0572},{"s":"RuH on Ru/Cchemi","x":600,"y":0.0532},{"s":"RuH on Ru/Cchemi","x":628,"y":0.0512},{"s":"RuH on Ru/Cchemi","x":656,"y":0.0502},{"s":"RuH on Ru/Cchemi","x":684,"y":0.0463},{"s":"RuH on Ru/Cchemi","x":712,"y":0.0413},{"s":"RuH on Ru/Cchemi","x":730,"y":0.0433},{"s":"RuH on Ru/Cchemi","x":749,"y":0.0502},{"s":"RuH on Ru/Cchemi","x":768,"y":0.0483},{"s":"RuH on Ru/Cchemi","x":786,"y":0.0483},{"s":"RuH on Ru/Cchemi","x":805,"y":0.0582},{"s":"RuH on Ru/Cchemi","x":823,"y":0.0562},{"s":"RuH on Ru/Cchemi","x":842,"y":0.0542},{"s":"RuH on Ru/Cchemi","x":860,"y":0.0642},{"s":"RuH on Ru/Cchemi","x":888,"y":0.0751},{"s":"RuH on Ru/Cchemi","x":907,"y":0.0652},{"s":"RuH on Ru/Cchemi","x":931,"y":0.0522},{"s":"RuH on Ru/Cchemi","x":953,"y":0.0701},{"s":"RuH on Ru/Cchemi","x":968,"y":0.0831},{"s":"RuH on Ru/Cchemi","x":981,"y":0.0721},{"s":"RuH on Ru/Cchemi","x":1000,"y":0.0522},{"s":"RuH on Ru/Cchemi","x":1019,"y":0.0433},{"s":"RuH on Ru/Cchemi","x":1047,"y":0.0433},{"s":"RuH on Ru/Cchemi","x":1075,"y":0.0473},{"s":"RuH on Ru/Cchemi","x":1093,"y":0.0433},{"s":"RuH on Ru/Cchemi","x":1112,"y":0.0403},{"s":"RuH on Ru/Cchemi","x":1140,"y":0.0512},{"s":"RuH on Ru/Cchemi","x":1168,"y":0.0741},{"s":"RuH on Ru/Cchemi","x":1186,"y":0.0781},{"s":"RuH on Ru/Cchemi","x":1214,"y":0.0701},{"s":"RuH on Ru/Cchemi","x":1242,"y":0.0642},{"s":"RuH on Ru/Cchemi","x":1270,"y":0.0632},{"s":"RuH on Ru/Cchemi","x":1298,"y":0.0602},{"s":"RuH on Ru/Cchemi","x":1326,"y":0.0542},{"s":"RuH on Ru/Cchemi","x":1344,"y":0.0493},{"s":"RuH on Ru/Cchemi","x":1372,"y":0.0522},{"s":"RuH on Ru/Cchemi","x":1400,"y":0.0552},{"s":"RuH on Ru/Cchemi","x":1428,"y":0.0562},{"s":"RuH on Ru/Cchemi","x":1456,"y":0.0522},{"s":"RuH on Ru/Cchemi","x":1484,"y":0.0502},{"s":"RuH on Ru/Cchemi","x":1512,"y":0.0463},{"s":"RuH on Ru/Cchemi","x":1540,"y":0.0443},{"s":"RuH on Ru/Cchemi","x":1568,"y":0.0433},{"s":"RuH on Ru/Cchemi","x":1605,"y":0.0473},{"s":"RuH on Ru/Cchemi","x":1633,"y":0.0443},{"s":"RuH on Ru/Cchemi","x":1661,"y":0.0413},{"s":"RuH on Ru/Cchemi","x":1689,"y":0.0433},{"s":"RuH on Ru/Cchemi","x":1717,"y":0.0423},{"s":"RuH on Ru/Cchemi","x":1745,"y":0.0403},{"s":"RuH on Ru/Cchemi","x":1773,"y":0.0413},{"s":"RuH on Ru/Cchemi","x":1801,"y":0.0393},{"s":"RuH on Ru/Cchemi","x":1829,"y":0.0383},{"s":"RuH on Ru/Cchemi","x":1866,"y":0.0393},{"s":"RuH on Ru/Cchemi","x":1903,"y":0.0403},{"s":"RuH on Ru/Cchemi","x":1940,"y":0.0388},{"s":"RuH on Ru/Cchemi","x":1978,"y":0.0363},{"s":"RuH on Ru/Cchemi","x":2015,"y":0.0343},{"s":"RuH on Ru/Cchemi","x":2052,"y":0.0353},{"s":"RuH on Ru/Cchemi","x":2089,"y":0.0368},{"s":"RuH on Ru/Cchemi","x":2126,"y":0.0363},{"s":"RuH on Ru/Cchemi","x":2164,"y":0.0368},{"s":"RuH on Ru/Cchemi","x":2182,"y":0.0353}
          ]},
          "mark": {"type": "line", "strokeWidth": 2.6},
          "encoding": {
            "x": {"field": "x", "type": "quantitative", "scale": {"domain": [0, 2223], "nice": false, "zero": false}, "axis": {"values": [0,500,1000,1500,2000], "format": "d", "title": "Wavenumbers [cm⁻¹]"}},
            "y": {"field": "y", "type": "quantitative", "scale": {"domain": [-0.0095, 0.1005], "nice": false, "zero": false}, "axis": {"values": [0,0.02,0.04,0.06,0.08,0.10], "format": ".2f", "labelExpr": "replace(datum.label, '.', ',')", "title": "ΔS(Q,ω)", "titlePadding": 12}},
            "color": {"field": "s", "type": "nominal", "scale": {"domain": ["RuH on Ru/Cchemi"], "range": ["#33c6c8"]}, "legend": {"title": null, "legendX": 44, "legendY": 319}}
          }
        }
      ]
    }
  ]
}
